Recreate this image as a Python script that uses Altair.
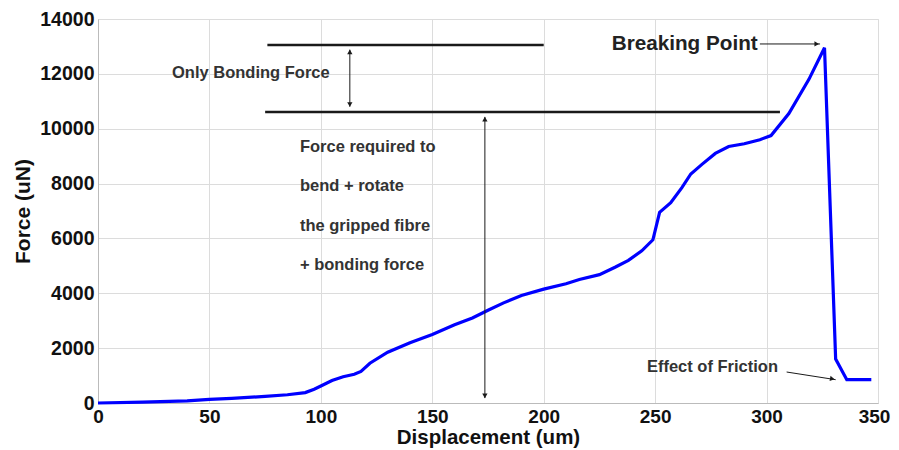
import altair as alt
import pandas as pd

# Curve data
disp = [0, 20, 40, 50, 60, 75, 85, 93, 97, 100, 105, 110, 115, 118, 122, 130, 140, 150,
        160, 168, 175, 182, 190, 200, 210, 216, 225, 232, 238, 244, 249, 252, 257, 262,
        266, 271, 277, 283, 290, 297, 302, 310, 319, 326, 331, 336, 347]
force = [0, 30, 80, 130, 170, 240, 300, 380, 500, 620, 820, 960, 1050, 1150, 1450, 1850,
         2200, 2500, 2850, 3100, 3380, 3650, 3920, 4150, 4350, 4500, 4680, 4950, 5200,
         5550, 5950, 6950, 7300, 7850, 8350, 8700, 9100, 9350, 9450, 9600, 9750, 10550,
         11800, 12950, 1600, 850, 850]

x_ticks = [0, 50, 100, 150, 200, 250, 300, 350]
y_ticks = [0, 2000, 4000, 6000, 8000, 10000, 12000, 14000]

# Annotation lines (data units)
hline_x1 = [76, 75]
hline_x2 = [200, 306]
hline_y = [13050, 10610]

# Arrow shafts
arrow_x1 = [113, 173.6, 297, 309]
arrow_y1 = [10800, 180, 13090, 1130]
arrow_x2 = [113, 173.6, 324, 331]
arrow_y2 = [12880, 10430, 13090, 850]

# Arrow heads
head_x = [113, 113, 173.6, 173.6, 322.5, 329.5]
head_y = [12800, 10880, 10350, 260, 13090, 880]
head_shape = ["triangle-up", "triangle-down", "triangle-up", "triangle-down",
              "triangle-right", "triangle-right"]
head_angle = [0, 0, 0, 0, 0, 10]

# Small annotation texts
note_text = ["Only Bonding Force", "Force required to", "bend + rotate",
             "the gripped fibre", "+ bonding force", "Effect of Friction"]
note_x = [33.2, 90.6, 90.6, 90.6, 90.6, 246.3]
note_y = [12030, 9333, 7911, 6453, 5031, 1312]

big_text = ["Breaking Point"]
big_x = [230.5]
big_y = [13090]

FONT = "Liberation Sans"

curve = pd.DataFrame({"x": disp, "y": force})
hl = pd.DataFrame({"x": hline_x1, "x2": hline_x2, "y": hline_y})
ar = pd.DataFrame({"x": arrow_x1, "y": arrow_y1, "x2": arrow_x2, "y2": arrow_y2})
hd = pd.DataFrame({"x": head_x, "y": head_y, "shape": head_shape, "angle": head_angle})
nt = pd.DataFrame({"x": note_x, "y": note_y, "t": note_text})
bt = pd.DataFrame({"x": big_x, "y": big_y, "t": big_text})

xs = alt.Scale(domain=[0, 350], nice=False)
ys = alt.Scale(domain=[0, 14000], nice=False)

xaxis = alt.Axis(title="Displacement (um)", values=x_ticks, grid=True, gridColor="#dcdcdc",
                 ticks=False, domainColor="#bbbbbb", labelFont=FONT, labelFontSize=19,
                 labelFontWeight="bold", labelColor="#111", titleFont=FONT, titleFontSize=20.5,
                 titleFontWeight="bold", titleColor="#111", titlePadding=1, labelPadding=4,
                 labelFlush=False, format="d",
                 labelOffset={"condition": {"test": "datum.value == 350", "value": -4},
                              "value": 0})
yaxis = alt.Axis(title="Force (uN)", values=y_ticks, grid=True, gridColor="#dcdcdc",
                 ticks=False, domainColor="#bbbbbb", labelFont=FONT, labelFontSize=19.5,
                 labelFontWeight="bold", labelColor="#111", titleFont=FONT, titleFontSize=21,
                 titleFontWeight="bold", titleColor="#111", titlePadding=6, labelPadding=4,
                 labelFlush=False, format="d")

line = alt.Chart(curve).mark_line(color="#0000ff", strokeWidth=3.2).encode(
    x=alt.X("x:Q", scale=xs, axis=xaxis),
    y=alt.Y("y:Q", scale=ys, axis=yaxis),
)

hrules = alt.Chart(hl).mark_rule(color="#1a1a1a", strokeWidth=2.5).encode(
    x=alt.X("x:Q", scale=xs), x2="x2:Q", y=alt.Y("y:Q", scale=ys))

arrows = alt.Chart(ar).mark_rule(color="#1a1a1a", strokeWidth=1).encode(
    x=alt.X("x:Q", scale=xs), x2="x2:Q", y=alt.Y("y:Q", scale=ys), y2="y2:Q")

heads = alt.Chart(hd).mark_point(filled=True, color="#1a1a1a", size=28, opacity=1).encode(
    x=alt.X("x:Q", scale=xs), y=alt.Y("y:Q", scale=ys),
    shape=alt.Shape("shape:N", scale=None), angle=alt.Angle("angle:Q", scale=None))

notes = alt.Chart(nt).mark_text(align="left", baseline="middle", font=FONT, fontSize=16.5,
                                fontWeight="bold", color="#333").encode(
    x=alt.X("x:Q", scale=xs), y=alt.Y("y:Q", scale=ys), text="t:N")

bigs = alt.Chart(bt).mark_text(align="left", baseline="middle", font=FONT, fontSize=20.7,
                               fontWeight="bold", color="#222").encode(
    x=alt.X("x:Q", scale=xs), y=alt.Y("y:Q", scale=ys), text="t:N")

chart = alt.layer(line, hrules, arrows, heads, notes, bigs).properties(
    width=780, height=384,
    autosize=alt.AutoSizeParams(type="none"),
    padding={"left": 90, "top": 11, "right": 13, "bottom": 47},
).configure_view(stroke="#dcdcdc").configure(background="white")

chart.save("out.html", embed_options={"renderer": "svg", "actions": False})
